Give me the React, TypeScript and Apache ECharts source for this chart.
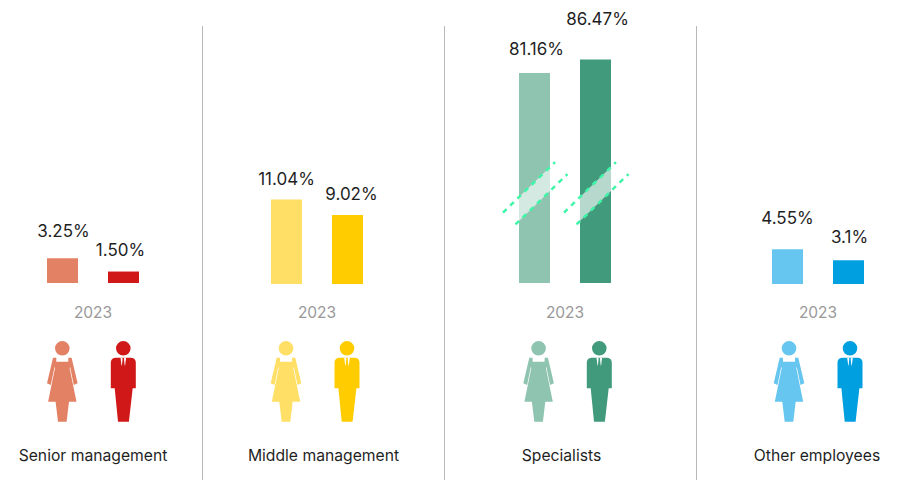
import React, { useEffect, useRef } from "react";
import * as echarts from "echarts";

const panels = ["Senior management", "Middle management", "Specialists", "Other employees"];
const years = ["2023"];
const womenValues = [3.25, 11.04, 81.16, 4.55];
const menValues = [1.5, 9.02, 86.47, 3.1];
const womenLabels = ["3.25%", "11.04%", "81.16%", "4.55%"];
const menLabels = ["1.50%", "9.02%", "86.47%", "3.1%"];
const axisMaxes = [34.4, 34.5, 101.7, 34.5];
const breakValue = 34.4;

const womenColors = ["#e38165", "#ffdf66", "#8fc4b1", "#66c6f0"];
const menColors = ["#d01818", "#ffcc00", "#419a7c", "#009fe0"];
const gridLefts = [32, 256, 504, 757];
const gridHeights = [263, 264, 263, 264];
const womenLabelLift = [14, 7, 11, 18];
const menLabelLift = [8, 7, 27, 10];
const womenLabelShift = [1, 0, 2, 0];
const menLabelShift = [-3, 4, 2, 1];
const titleCentres = [93, 323.5, 561.5, 817];
const figureWomen = [62.3, 286, 538.6, 789];
const figureMen = [123.3, 347, 599.3, 850];
const dividers = [202.5, 444.5, 696.5];
const FONT = "Inter";

const head = "M-7.3 7.3A7.3 7.3 0 1 1 7.3 7.3A7.3 7.3 0 1 1 -7.3 7.3Z";
const womanPath =
  head +
  "M-9.3 16.7L-6 16.7L-6 20.7L6 20.7L6 16.7L9.3 16.7L15.3 42.3L11.5 44L7.8 26L7.3 27L14.2 60.7L6.7 60.7L4.3 80.7L-4.3 80.7L-6.7 60.7L-14.2 60.7L-7.3 27L-7.8 26L-11.5 44L-15.3 42.3Z";
const manPath =
  head +
  "M-8 16.7L8 16.7Q12.5 17.2 12.5 21.5L12.5 47.3L9.4 47.3L5.6 80.7L-5.3 80.7L-8.6 47.3L-12.5 47.3L-12.5 21.5Q-12.5 17.2 -8 16.7Z";
const collarPath =
  "M-2.8 16.7L-0.8 16.7L-0.8 19L-1.4 24.5L-1.8 24.5ZM0.8 16.7L2.8 16.7L1.8 24.5L1.4 24.5L0.8 19Z";

echarts.graphic.registerShape("womanFigure", echarts.graphic.extendPath(womanPath as any, {}) as any);
echarts.graphic.registerShape("manFigure", echarts.graphic.extendPath(manPath as any, {}) as any);
echarts.graphic.registerShape("collarFigure", echarts.graphic.extendPath(collarPath as any, {}) as any);

const BAR_OFFSET = 30.5;

function renderBreak(params: any, api: any) {
  const c = api.coord([0, api.value(1)]);
  const children: any[] = [];
  [-BAR_OFFSET, BAR_OFFSET].forEach((dx) => {
    const x = c[0] + dx;
    const y = c[1];
    const half = 15.5;
    const slope = 0.97;
    const top = y - 12;
    const bot = y + 12;
    children.push({
      type: "polygon",
      shape: {
        points: [
          [x - half, top + half * slope],
          [x + half, top - half * slope],
          [x + half, bot - half * slope],
          [x - half, bot + half * slope],
        ],
      },
      style: { fill: "rgba(255,255,255,0.62)" },
    });
    const line = (edge: number, ox: number) => {
      const mid = edge - ox * slope;
      return {
        type: "line",
        shape: {
          x1: x + ox - 26,
          y1: mid + 26 * slope,
          x2: x + ox + 26,
          y2: mid - 26 * slope,
        },
        style: { stroke: "#3ff5a8", lineWidth: 2.5, lineDash: [5, 5], fill: "none" },
      };
    };
    children.push(line(top, -5.5));
    children.push(line(bot, 7));
  });
  return { type: "group", children };
}

export default function App() {
  const ref = useRef<HTMLDivElement>(null);
  useEffect(() => {
    const chart = echarts.init(ref.current!, undefined, { renderer: "svg" });
    const series: any[] = [];
    panels.forEach((_, i) => {
      const bar = (name: string, v: number, text: string, color: string, lift: number, shift: number) => ({
        type: "bar",
        name,
        xAxisIndex: i,
        yAxisIndex: i,
        barWidth: 31,
        barGap: "96.8%",
        data: [v],
        itemStyle: { color },
        label: {
          show: true,
          position: "top",
          distance: 5,
          offset: [shift, -lift],
          formatter: () => text,
          fontFamily: FONT,
          fontSize: 17,
          color: "#1f1f1f",
        },
      });
      series.push(bar("Women", womenValues[i], womenLabels[i], womenColors[i], womenLabelLift[i], womenLabelShift[i]));
      series.push(bar("Men", menValues[i], menLabels[i], menColors[i], menLabelLift[i], menLabelShift[i]));
    });
    series.push({
      type: "custom",
      xAxisIndex: 2,
      yAxisIndex: 2,
      clip: false,
      z: 5,
      data: [[0, breakValue]],
      renderItem: renderBreak,
    });

    const graphics: any[] = [];
    dividers.forEach((x) =>
      graphics.push({
        type: "line",
        shape: { x1: x, y1: 26, x2: x, y2: 480 },
        style: { stroke: "#b8b8b8", lineWidth: 1 },
      })
    );
    panels.forEach((p, i) => {
      graphics.push({
        type: "text",
        x: titleCentres[i],
        y: 455,
        style: { text: p, font: `15.7px ${FONT}`, fill: "#1f1f1f", align: "center", verticalAlign: "middle" },
      });
      graphics.push({ type: "womanFigure", x: figureWomen[i], y: 341, style: { fill: womenColors[i] } });
      graphics.push({ type: "manFigure", x: figureMen[i], y: 341, style: { fill: menColors[i] } });
      graphics.push({ type: "collarFigure", x: figureMen[i], y: 341, style: { fill: "#ffffff" } });
    });

    chart.setOption({
      animation: false,
      backgroundColor: "#ffffff",
      grid: panels.map((_, i) => ({ left: gridLefts[i], width: 122, top: 20, height: gridHeights[i] })),
      xAxis: panels.map((_, i) => ({
        type: "category",
        gridIndex: i,
        data: years,
        axisLine: { show: false },
        axisTick: { show: false },
        axisLabel: { color: "#999999", fontFamily: FONT, fontSize: 15.5, margin: 284 - 20 - gridHeights[i] + 20 },
      })),
      yAxis: panels.map((_, i) => ({
        type: "value",
        gridIndex: i,
        min: 0,
        max: axisMaxes[i],
        show: false,
      })),
      series,
      graphic: graphics,
    });
    return () => chart.dispose();
  }, []);
  return (
    <div
      ref={ref}
      style={{ position: "absolute", left: 0, top: 0, width: 904, height: 480 }}
    />
  );
}
